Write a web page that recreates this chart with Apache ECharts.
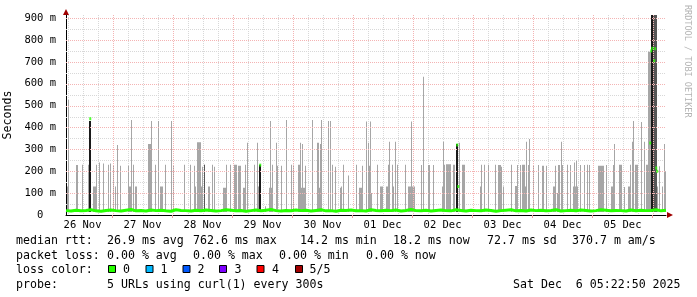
<!DOCTYPE html>
<html><head><meta charset="utf-8">
<script src="https://cdn.jsdelivr.net/npm/echarts@6/dist/echarts.min.js"></script>
<style>html,body{margin:0;padding:0;background:#fff}#c{width:697px;height:297px}</style>
</head><body><div id="c"></div>
<script>
// ---- time frame (hours after 26 Nov 00:00) ----
const START_H = 5 + 22/60 + 50/3600;   // 26 Nov 05:22:50
const SPAN_H = 240;                     // 10 days
const FIRST_H = 5.88;                   // hour of the first smoke reading
const Y_MAX = 914;                      // ms
const SMOKE_BASE = 14.2;                // ms (min rtt)

const dayLabels = ['26 Nov','27 Nov','28 Nov','29 Nov','30 Nov','01 Dec','02 Dec','03 Dec','04 Dec','05 Dec'];
const yTicks = [0,100,200,300,400,500,600,700,800,900];

// smoke (max rtt) readings: hours after FIRST_H, ms
const smokeHours = [0.0,0.4,3.6,4.0,6.0,8.4,10.4,10.8,11.2,11.6,12.8,14.4,16.4,17.2,18.4,19.2,20.0,21.2,24.4,24.8,25.2,25.6,26.4,27.2,27.6,32.4,32.8,33.2,33.6,35.2,36.4,37.2,37.6,38.0,39.2,41.6,42.4,46.8,49.2,50.8,51.2,52.0,52.4,52.8,53.2,53.6,54.0,54.8,56.4,56.8,58.0,58.8,
62.4,62.8,63.2,63.6,65.2,66.8,67.2,67.6,68.4,68.8,69.2,70.4,70.8,71.2,72.0,74.8,76.0,76.4,79.2,80.8,81.2,81.6,82.0,83.6,84.0,85.6,87.6,89.6,90.4,92.4,92.8,93.2,93.6,94.0,94.4,94.8,95.2,98.0,100.0,100.4,100.8,101.2,101.6,104.4,105.2,106.0,107.2,109.2,109.6,110.4,112.4,115.6,116.8,117.2,117.6,118.0,
119.6,120.4,120.8,121.2,121.6,124.0,125.2,125.6,126.0,127.6,128.0,128.4,128.8,130.0,130.4,131.2,132.0,135.2,136.4,136.8,137.2,137.6,138.0,138.4,138.8,141.6,142.4,144.4,144.8,146.4,150.0,150.4,150.8,151.6,152.0,152.4,152.8,153.2,154.4,154.8,156.8,158.0,158.4,158.8,165.2,165.6,166.8,168.4,171.2,172.4,172.8,173.2,173.6,174.4,177.6,
179.2,179.6,180.0,181.2,182.0,182.4,182.8,183.2,183.6,184.4,184.8,186.4,188.4,190.0,190.4,191.6,194.4,194.8,195.2,196.0,196.4,196.8,197.6,198.0,200.0,201.2,202.4,202.8,203.2,203.6,204.0,205.2,206.8,208.0,208.8,212.4,212.8,213.2,213.6,214.0,214.4,215.6,217.6,218.0,218.4,218.8,220.8,221.2,221.6,222.8,224.4,224.8,225.2,226.0,226.4,227.2,227.6,228.0,229.6,230.8,231.6,232.0,232.4,232.8,233.2,236.0,236.8,238.0,238.8,239.2];
const smokeMax = [130,525,228,228,230,230,130,130,130,230,240,235,230,235,225,130,320,225,225,130,130,434,230,130,130,325,325,325,430,230,430,130,130,130,230,430,225,230,230,225,130,333,333,333,333,130,220,230,130,130,230,220,
125,125,125,230,230,230,230,230,225,225,225,125,125,230,330,230,330,130,40,125,430,125,230,330,225,225,434,230,230,230,230,330,125,325,125,125,225,434,330,330,125,325,434,430,430,230,220,125,130,230,180,230,125,125,125,225,
427,330,225,427,100,230,130,130,130,130,130,230,335,230,130,335,230,230,130,130,130,427,130,130,130,228,632,228,228,228,130,335,230,232,232,232,232,232,230,230,330,230,230,230,130,230,230,230,230,228,228,228,220,130,230,
132,132,228,228,230,230,230,130,335,228,347,225,228,225,225,225,130,130,225,100,228,228,335,228,230,228,130,240,130,248,130,228,228,230,228,225,225,225,225,225,225,228,130,130,228,325,230,230,230,128,130,130,230,335,430,230,230,230,425,335,230,230,746,746,746,130,223,130,325,200];

// dense (all pings high) smoke: hours after FIRST_H, ms
const darkHours = [8.8,9.2,76.8,77.2,155.6,156.0,233.6,234.0];
const darkMax   = [430,430,230,230,325,325,915,915];
const midHours  = [54.8,234.4,234.8,235.2,235.6];
const midMax    = [230,915,915,915,915];

// median rtt, one reading every 2 h from START_H, ms
const MEDIAN_STEP_H = 2;
const medianMs = [20,18,22,19,21,24,19,17,21,23, 20,18,22,25,19,21,18,23,20,22,
  19,17,24,21,20,18,22,19,23,21, 18,20,24,22,19,21,17,20,23,19,
  22,25,20,18,21,19,23,20,22,18, 21,24,19,20,17,22,21,23,19,20,
  18,24,21,19,22,20,23,18,21,25, 20,19,22,18,21,23,20,19,24,21,
  18,22,20,19,23,21,17,20,22,24, 19,21,18,23,20,22,19,21,24,18,
  20,22,19,23,21,18,20,24,22,19, 21,20,18,23,19,22,20,21,24,19, 22];
// isolated high medians: hours after FIRST_H, ms
const medianPeakHours = [9.2,77.2,156.0,156.4,233.2,233.6,234.0,234.8,235.2,235.6,236.0];
const medianPeakMs    = [440,228,320,130,329,750,762,705,760,215,200];

const lossColors = ['#26ff00','#00b8ff','#0059ff','#7e00ff','#ff0000','#a10000'];
const lossLabels = ['0','1','2','3','4','5/5'];

const FONT = '"DejaVu Sans Mono", monospace';
const chart = echarts.init(document.getElementById('c'), null, {renderer:'canvas'});

function barItem(color){
  return function(params, api){
    const t = api.value(0), v = api.value(1);
    const a = api.coord([t - 0.2, v]), b = api.coord([t + 0.2, SMOKE_BASE]);
    const x0 = Math.round(a[0]); const x1 = Math.max(x0 + 1, Math.round(b[0]));
    return {type:'rect', shape:{x:x0, y:a[1], width:x1 - x0, height:b[1] - a[1]}, style:{fill:color}};
  };
}
function vLine(color){
  return function(params, api){
    const v = api.value(0);
    const top = api.coord([v, Y_MAX]), bot = api.coord([v, 0]);
    const x = Math.round(top[0]) + 0.5;
    return {type:'line', shape:{x1:x, y1:top[1], x2:x, y2:bot[1]}, style:{stroke:color, lineWidth:1, lineDash:[1,1]}};
  };
}
function hLine(color){
  return function(params, api){
    const v = api.value(1);
    const l = api.coord([START_H, v]), r = api.coord([START_H + SPAN_H, v]);
    const y = Math.round(l[1]) + 0.5;
    return {type:'line', shape:{x1:l[0], y1:y, x2:r[0], y2:y}, style:{stroke:color, lineWidth:1, lineDash:[1,1]}};
  };
}

const minorX = [], majorX = [], noonX = [];
for (let h = 6; h < START_H + SPAN_H; h += 6) { if (h % 24) minorX.push([h, 0]); else majorX.push([h, 0]); }
for (let d = 0; d < dayLabels.length; d++) noonX.push(12 + 24 * d);
const minorY = [], majorY = [];
for (let v = 50; v <= 900; v += 50) { if (v % 100) minorY.push([START_H, v]); else majorY.push([START_H, v]); }

const smokeData = smokeHours.map((h, i) => [FIRST_H + h, smokeMax[i]]);
const darkData = darkHours.map((h, i) => [FIRST_H + h, darkMax[i]]);
const midData = midHours.map((h, i) => [FIRST_H + h, midMax[i]]);
const medianData = medianMs.map((v, i) => [START_H + i * MEDIAN_STEP_H, v]);
const peakData = medianPeakHours.map((h, i) => [FIRST_H + h, medianPeakMs[i]]);

const legendLines = [
  {y:241, parts:[['median rtt:',16],['26.9 ms avg',107],['762.6 ms max',193],['14.2 ms min',300],['18.2 ms now',393],['72.7 ms sd',487],['370.7 m am/s',572]]},
  {y:256, parts:[['packet loss:',16],['0.00 % avg',107],['0.00 % max',193],['0.00 % min',279],['0.00 % now',366]]},
  {y:270, parts:[['loss color:',16]]},
  {y:284.5, parts:[['probe:',16],['5 URLs using curl(1) every 300s',107],['Sat Dec  6 05:22:50 2025',513]]}
];
const graphics = [];
legendLines.forEach(line => line.parts.forEach(p => graphics.push({
  type:'text', x:p[1], y:line.y, silent:true,
  style:{text:p[0], font:'11.6px ' + FONT, fill:'#000', verticalAlign:'middle', textVerticalAlign:'middle'}
})));
const sqX = [108.5,146,183,219.5,257,295.5], lblX = [123,160.5,197.5,234.5,272,309.5];
lossColors.forEach((c, i) => {
  graphics.push({type:'rect', silent:true, shape:{x:sqX[i], y:265.5, width:7, height:7}, style:{fill:c, stroke:'#000', lineWidth:1}});
  graphics.push({type:'text', silent:true, x:lblX[i], y:270, style:{text:lossLabels[i], font:'11.6px ' + FONT, fill:'#000', verticalAlign:'middle', textVerticalAlign:'middle'}});
});
graphics.push({type:'text', silent:true, x:692, y:5, rotation:-Math.PI/2,
  style:{text:'RRDTOOL / TOBI OETIKER', font:'8.5px ' + FONT, fill:'#b4b4b4', align:'left', verticalAlign:'top', textAlign:'left', textVerticalAlign:'top'}});

chart.setOption({
  backgroundColor:'#ffffff',
  animation:false,
  grid:{left:66, top:15, width:600, height:200, containLabel:false, outerBoundsMode:'none'},
  xAxis:{type:'value', min:START_H, max:START_H + SPAN_H,
    axisLine:{show:true, lineStyle:{color:'#000', width:1}},
    axisTick:{show:true, customValues:majorX.map(d => d[0]), length:3, lineStyle:{color:'#f0a0a0'}},
    axisLabel:{customValues:noonX, margin:5, fontFamily:FONT, fontSize:10.5, color:'#000',
      formatter:v => dayLabels[Math.round((v - 12) / 24)] || ''},
    splitLine:{show:false}},
  yAxis:{type:'value', min:0, max:Y_MAX, interval:100,
    name:'Seconds', nameLocation:'middle', nameGap:49, nameRotate:90,
    nameTextStyle:{fontFamily:FONT, fontSize:11.6, color:'#000'},
    axisLine:{show:true, lineStyle:{color:'#000', width:1}},
    axisTick:{show:false},
    axisLabel:{margin:10, fontFamily:FONT, fontSize:10.5, color:'#000', showMaxLabel:false,
      formatter:v => (v === 0 ? '0  ' : (yTicks.indexOf(v) >= 0 ? v + ' m' : ''))},
    splitLine:{show:false}},
  graphic:graphics,
  series:[
    {type:'custom', name:'minorX', z:1, silent:true, renderItem:vLine('#d8d8d8'), data:minorX, clip:true},
    {type:'custom', name:'minorY', z:1, silent:true, renderItem:hLine('#d8d8d8'), data:minorY, clip:true},
    {type:'custom', name:'smoke', z:2, silent:true, renderItem:barItem('#a6a6a6'), data:smokeData, clip:true},
    {type:'custom', name:'smokeMid', z:3, silent:true, renderItem:barItem('#555555'), data:midData, clip:true},
    {type:'custom', name:'smokeDark', z:3, silent:true, renderItem:barItem('#1a1a1a'), data:darkData, clip:true},
    {type:'custom', name:'majorX', z:4, silent:true, renderItem:vLine('#f4b4b4'), data:majorX, clip:true},
    {type:'custom', name:'majorY', z:4, silent:true, renderItem:hLine('#f4b4b4'), data:majorY, clip:true},
    {type:'line', name:'median', z:5, silent:true, data:medianData, showSymbol:false, symbol:'none',
      lineStyle:{color:'#26ff00', width:3},
      markPoint:{silent:true, animation:false, label:{show:false}, data:[
        {coord:[START_H + SPAN_H, 0], symbol:'triangle', symbolSize:[6,6], symbolRotate:-90, symbolOffset:[4,0], itemStyle:{color:'#a00000'}},
        {coord:[START_H, Y_MAX], symbol:'triangle', symbolSize:[6,6], symbolOffset:[0,-3], itemStyle:{color:'#a00000'}}
      ]}},
    {type:'scatter', name:'medianPeak', z:6, silent:true, data:peakData, symbol:'rect', symbolSize:[2,3], itemStyle:{color:'#26ff00'}}
  ]
});
</script></body></html>
